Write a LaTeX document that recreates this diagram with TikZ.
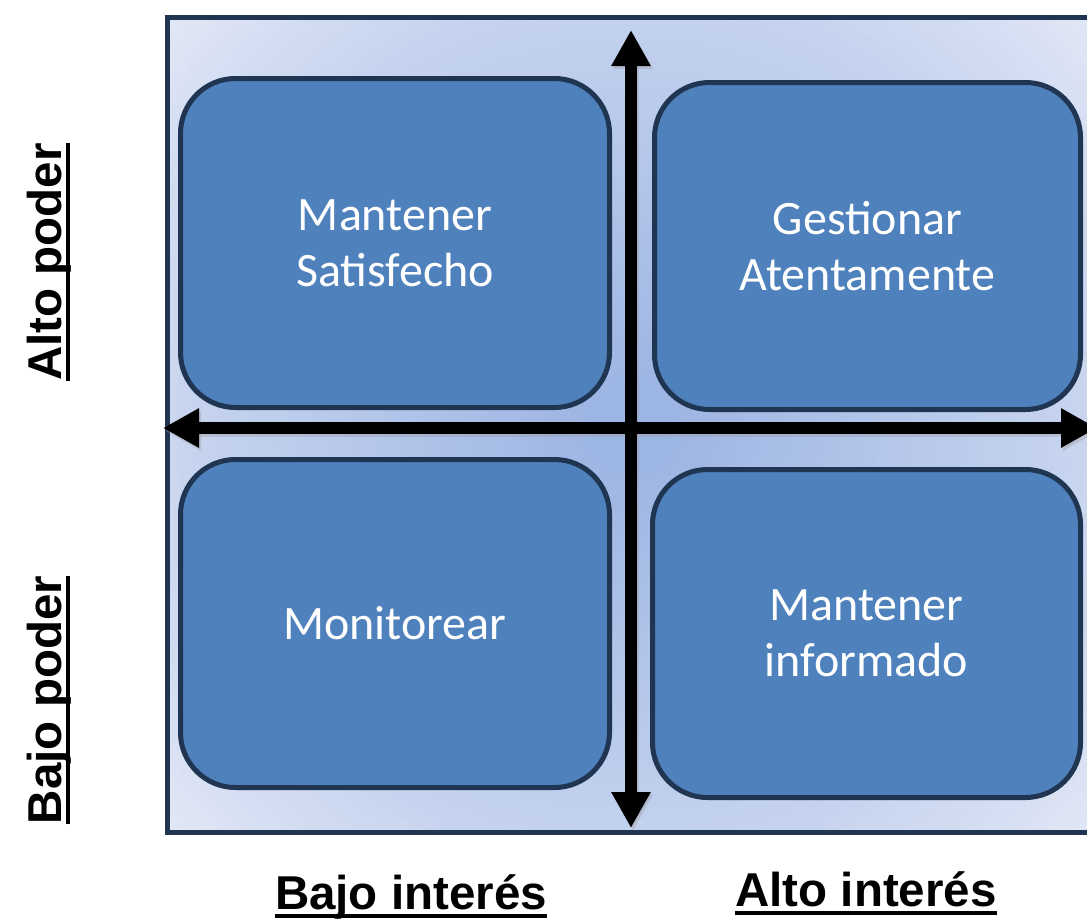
\documentclass[tikz,border=0pt]{standalone}
\usepackage{fontspec}
\setmainfont{Carlito}
\newfontfamily\labfont{Liberation Sans}
\usetikzlibrary{arrows.meta}
\definecolor{boxfill}{HTML}{4F81BD}
\definecolor{boxline}{HTML}{1F3552}
\definecolor{bgA}{HTML}{9DB5E3}
\definecolor{bgB}{HTML}{C4D2EE}
\definecolor{bgC}{HTML}{E1E7F5}
\tikzset{
  quad/.style={draw=boxline, line width=5pt, fill=boxfill, rounded corners=55pt,
    text=white, font=\fontsize{48}{56}\selectfont, align=center, inner sep=0pt},
  framebox/.style={draw=boxline, line width=5pt, inner sep=0pt},
  axis/.style={line width=12pt, {Triangle[length=36pt,width=37pt]}-{Triangle[length=36pt,width=37pt]}},
  axshadow/.style={axis, draw=black!40, opacity=0.35},
  lab/.style={font=\labfont\bfseries\fontsize{47.5}{56}\selectfont, inner sep=0pt, text depth=7pt},
  ul/.style={line width=3.5pt}
}
\begin{document}
\begin{tikzpicture}[x=1pt,y=-1pt]
\useasboundingbox (0,0) rectangle (1087,919);
\clip (0,0) rectangle (1087,919);
% frame background (stepped radial gradient)
\coordinate (fc) at (631.25,425);
\begin{scope}
  \clip (167.5,17.5) rectangle (1095,832.5);
  \foreach \i in {0,...,60} {
    \pgfmathsetmacro\f{1-\i/60}
    \pgfmathsetmacro\r{620*\f+0.5}
    \ifdim\f pt>0.68pt
      \pgfmathsetmacro\p{(\f-0.68)/0.32*100}
      \colorlet{ringc}{bgC!\p!bgB}
    \else
      \pgfmathsetmacro\p{max(\f-0.06,0)/0.62*100}
      \colorlet{ringc}{bgB!\p!bgA}
    \fi
    \fill[ringc] (fc) circle (\r pt);
  }
\end{scope}
\node[framebox, minimum width=927.5pt, minimum height=815pt] (frame) at (fc) {};
% quadrants
\node[quad, minimum width=429pt, minimum height=329pt] (tl) at (395,243) {Mantener\\Satisfecho};
\node[quad, minimum width=426pt, minimum height=327pt] (tr) at (867.5,246) {Gestionar\\Atentamente};
\node[quad, minimum width=429pt, minimum height=328pt] (bl) at (395,623.5) {Monitorear};
\node[quad, minimum width=428pt, minimum height=328pt] (br) at (866.5,633.5) {Mantener\\informado};
% axes
\coordinate (vtop) at (631,30);
\coordinate (vbot) at (631,828);
\coordinate (hl) at (163,428);
\coordinate (hr) at (1097,428);
\draw[axshadow] ([shift={(2,3)}]vtop) -- ([shift={(2,3)}]vbot);
\draw[axshadow] ([shift={(2,3)}]hl) -- ([shift={(2,3)}]hr);
\draw[axis] (vtop) -- (vbot);
\draw[axis] (hl) -- (hr);
% labels
\node[lab, rotate=90, anchor=base] (ap) at (61,262) {Alto poder};
\draw[ul] (ap.south west) -- (ap.south east);
\node[lab, rotate=90, anchor=base] (bp) at (61,700) {Bajo poder};
\draw[ul] (bp.south west) -- (bp.south east);
\node[lab, anchor=base] (bi) at (411,909) {Bajo interés};
\draw[ul] (bi.south west) -- (bi.south east);
\node[lab, anchor=base] (ai) at (866,906) {Alto interés};
\draw[ul] (ai.south west) -- (ai.south east);
\end{tikzpicture}
\end{document}
